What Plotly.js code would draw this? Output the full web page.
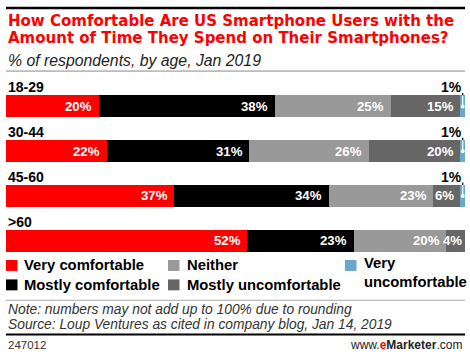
<!DOCTYPE html>
<html>
<head>
<meta charset="utf-8">
<script src="https://cdn.plot.ly/plotly-3.0.1.min.js"></script>
<style>html,body{margin:0;padding:0;background:#fff;}#chart{width:470px;height:357px;}</style>
</head>
<body>
<div id="chart"></div>
<script>
// ---- data ----
var ageGroups = ["18-29", "30-44", "45-60", ">60"];
var seriesNames = ["Very comfortable", "Mostly comfortable", "Neither", "Mostly uncomfortable", "Very uncomfortable"];
var veryComfortable    = [20, 22, 37, 52];
var mostlyComfortable  = [38, 31, 34, 23];
var neither            = [25, 26, 23, 20];
var mostlyUncomfortable= [15, 20, 6, 4];
var veryUncomfortable  = [1, 1, 1, 0];
var seriesColors = ["#ff0000", "#000000", "#999999", "#666666", "#69a8cd"];

var series = [veryComfortable, mostlyComfortable, neither, mostlyUncomfortable, veryUncomfortable];

// ---- layout geometry ----
var W = 470, H = 357;
var mL = 6, mR = 5, mT = 83.5, mB = 93.5;
var plotW = W - mL - mR, plotH = H - mT - mB;
function px(x) { return (x - mL) / plotW; }
function py(y) { return (H - mB - y) / plotH; }

var yIdx = ageGroups.map(function (_, i) { return i; });
var traces = [];
series.forEach(function (vals, s) {
  traces.push({
    type: "bar",
    orientation: "h",
    name: seriesNames[s],
    x: vals,
    y: yIdx,
    width: 0.49,
    marker: { color: seriesColors[s], line: { width: 0 } },
    showlegend: false,
    hoverinfo: "skip"
  });
});

var annotations = [];
var shapes = [];
var dotX = [], dotY = [];
var valueFont = { family: "Liberation Sans, Arial, sans-serif", size: 13.2, color: "#ffffff" };

ageGroups.forEach(function (g, i) {
  // category label above each bar
  annotations.push({
    xref: "paper", yref: "y", x: 0, y: i, yshift: 19,
    xanchor: "left", yanchor: "middle", showarrow: false,
    text: "<b>" + g + "</b>",
    font: { family: "Liberation Sans, Arial, sans-serif", size: 14, color: "#000" }
  });
  var total = 0; series.forEach(function (a) { total += a[i]; });
  // value labels at the inside end of each segment (first four series)
  var cum = 0;
  for (var s = 0; s < 4; s++) {
    cum += series[s][i];
    var v = series[s][i];
    if (v > 0) {
      annotations.push({
        xref: "x", yref: "y", x: cum / total * 100, y: i, xshift: v < 5 ? -1 : -4.5,
        xanchor: "right", yanchor: "middle", showarrow: false,
        text: "<b>" + v + "%</b>", font: valueFont
      });
    }
  }
  // small "very uncomfortable" callout above the bar
  var v5 = veryUncomfortable[i];
  if (v5 > 0) {
    var mid = (cum + v5 / 2) / total * 100;
    var end = (cum + v5) / total * 100;
    annotations.push({
      xref: "x", yref: "y", x: end, y: i, yshift: 19, xshift: -1,
      xanchor: "right", yanchor: "middle", showarrow: false,
      text: "<b>" + v5 + "%</b>",
      font: { family: "Liberation Sans, Arial, sans-serif", size: 14, color: "#000" }
    });
    shapes.push({ type: "line", xref: "x", yref: "y", x0: mid, x1: mid, y0: i - 0.30, y1: i - 0.245,
      line: { color: "#000", width: 1.2 } });
    shapes.push({ type: "line", xref: "x", yref: "y", x0: mid, x1: mid, y0: i - 0.245, y1: i,
      line: { color: "#ffffff", width: 1.2 } });
    dotX.push(mid); dotY.push(i);
  }
});
traces.push({
  type: "scatter", mode: "markers", x: dotX, y: dotY,
  marker: { color: "#ffffff", size: 4 }, showlegend: false, hoverinfo: "skip", cliponaxis: false
});

// title block
var titleFont = { family: "DejaVu Sans, sans-serif", size: 15, color: "#ff0000", weight: "bold" };
annotations.push({ xref: "paper", yref: "paper", x: px(6), y: py(20.5), xanchor: "left", yanchor: "middle",
  showarrow: false, text: "<b>How Comfortable Are US Smartphone Users with the</b>", font: titleFont });
annotations.push({ xref: "paper", yref: "paper", x: px(6), y: py(37), xanchor: "left", yanchor: "middle",
  showarrow: false, text: "<b>Amount of Time They Spend on Their Smartphones?</b>", font: titleFont });
annotations.push({ xref: "paper", yref: "paper", x: px(6), y: py(59.5), xanchor: "left", yanchor: "middle",
  showarrow: false, text: "<i>% of respondents, by age, Jan 2019</i>",
  font: { family: "Liberation Sans, Arial, sans-serif", size: 15.8, color: "#222" } });

shapes.push({ type: "line", xref: "paper", yref: "paper", x0: px(6), x1: px(465), y0: py(7), y1: py(7), line: { color: "#000", width: 2.5 } });
shapes.push({ type: "line", xref: "paper", yref: "paper", x0: px(6), x1: px(465), y0: py(70.5), y1: py(70.5), line: { color: "#888", width: 1 } });

// legend (manual, colours and names from series arrays)
var legendPos = [
  { sx: 6, sy: 266, tx: 22 }, { sx: 6, sy: 285.5, tx: 22 },
  { sx: 168, sy: 266, tx: 185 }, { sx: 168, sy: 285.5, tx: 185 },
  { sx: 345, sy: 266, tx: 361.5 }
];
var legFont = { family: "Liberation Sans, Arial, sans-serif", size: 14.8, color: "#000" };
seriesNames.forEach(function (n, s) {
  var p = legendPos[s];
  shapes.push({ type: "rect", xref: "paper", yref: "paper", x0: px(p.sx), x1: px(p.sx + 11.5),
    y0: py(p.sy - 5.5), y1: py(p.sy + 5.5), fillcolor: seriesColors[s], line: { width: 0 } });
  var label = s === 4 ? "<b>Very</b><br><b>uncomfortable</b>" : "<b>" + n + "</b>";
  annotations.push({ xref: "paper", yref: "paper", x: px(p.tx), y: py(s === 4 ? p.sy + 7.5 : p.sy),
    xanchor: "left", yanchor: "middle", align: "left", showarrow: false, text: label, font: legFont });
});

// footer
shapes.push({ type: "line", xref: "paper", yref: "paper", x0: px(6), x1: px(465), y0: py(301), y1: py(301), line: { color: "#aaa", width: 1 } });
shapes.push({ type: "line", xref: "paper", yref: "paper", x0: px(6), x1: px(465), y0: py(335.5), y1: py(335.5), line: { color: "#000", width: 2 } });
var noteFont = { family: "Liberation Sans, Arial, sans-serif", size: 13.8, color: "#333" };
annotations.push({ xref: "paper", yref: "paper", x: px(6), y: py(310), xanchor: "left", yanchor: "middle",
  showarrow: false, text: "<i>Note: numbers may not add up to 100% due to rounding</i>", font: noteFont });
annotations.push({ xref: "paper", yref: "paper", x: px(6), y: py(325), xanchor: "left", yanchor: "middle",
  showarrow: false, text: "<i>Source: Loup Ventures as cited in company blog, Jan 14, 2019</i>", font: noteFont });
annotations.push({ xref: "paper", yref: "paper", x: px(6), y: py(346), xanchor: "left", yanchor: "middle",
  showarrow: false, text: "247012", font: { family: "Liberation Sans, Arial, sans-serif", size: 11.5, color: "#333" } });
annotations.push({ xref: "paper", yref: "paper", x: px(464), y: py(346), xanchor: "right", yanchor: "middle",
  showarrow: false, text: "www.<b><span style=\"color:#ff0000\">e</span>Marketer</b>.com",
  font: { family: "Liberation Sans, Arial, sans-serif", size: 12, color: "#222" } });

var layout = {
  width: W, height: H,
  margin: { l: mL, r: mR, t: mT, b: mB, pad: 0 },
  paper_bgcolor: "#fff", plot_bgcolor: "#fff",
  barmode: "stack", barnorm: "percent",
  showlegend: false,
  xaxis: { range: [0, 100], visible: false, fixedrange: true },
  yaxis: { range: [3.5, -0.5], visible: false, fixedrange: true },
  annotations: annotations,
  shapes: shapes
};

Plotly.newPlot("chart", traces, layout, { displayModeBar: false, staticPlot: true });
</script>
</body>
</html>
